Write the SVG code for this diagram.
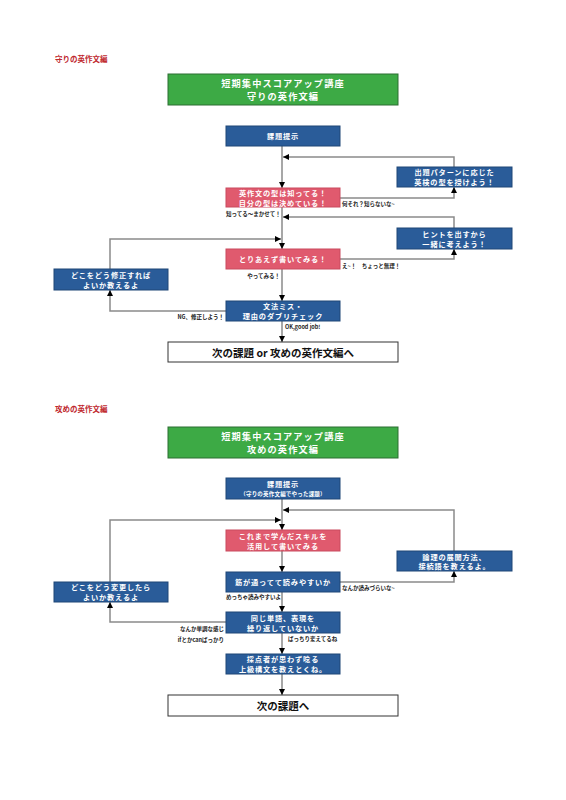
<svg xmlns="http://www.w3.org/2000/svg" width="566" height="800" viewBox="0 0 566 800">
<style>
text{font-family:"Noto Sans CJK JP","Noto Sans",sans-serif;font-weight:bold;dominant-baseline:central}
.sec{fill:#c0282e;font-size:7.5px}
.green{fill:#3daa45;stroke:#2d6e32;stroke-width:1}
.blue{fill:#2a5c99;stroke:#1e4677;stroke-width:1}
.pink{fill:#e05a6e;stroke:#c94a5e;stroke-width:1}
.white{fill:#ffffff;stroke:#333333;stroke-width:1}
.tt{fill:#ffffff;font-size:9.2px;letter-spacing:1.1px;text-anchor:middle}
.nt{fill:#ffffff;font-size:7.2px;letter-spacing:0.85px;text-anchor:middle}
.st{font-size:5.5px;letter-spacing:0.2px}
.wt{fill:#111111;font-size:10.5px;text-anchor:middle}
.lb{fill:#222222;font-size:5.5px}
.lbe{fill:#222222;font-size:5.5px;text-anchor:end}
.c{fill:none;stroke:#8a8a8a;stroke-width:1.5}
</style>
<defs>
<marker id="ah" markerWidth="6" markerHeight="6" refX="6" refY="3" orient="auto" markerUnits="userSpaceOnUse">
<path d="M0,0 L6,3 L0,6 z" fill="#000"/>
</marker>
</defs>
<rect width="566" height="800" fill="#ffffff"/>

<text class="sec" x="55" y="58">守りの英作文編</text>
<text class="sec" x="55" y="408">攻めの英作文編</text>

<g id="connectors">
<path class="c" d="M282,146 V188" marker-end="url(#ah)"/>
<path class="c" d="M454,167 V157 H283" marker-end="url(#ah)"/>
<path class="c" d="M340,198 H454 V187" marker-end="url(#ah)"/>
<path class="c" d="M282,207 V249" marker-end="url(#ah)"/>
<path class="c" d="M454,228 V217 H283" marker-end="url(#ah)"/>
<path class="c" d="M340,259 H454 V249" marker-end="url(#ah)"/>
<path class="c" d="M110,269 V239 H281" marker-end="url(#ah)"/>
<path class="c" d="M282,269 V301" marker-end="url(#ah)"/>
<path class="c" d="M226,311 H110 V290" marker-end="url(#ah)"/>
<path class="c" d="M282,321 V342" marker-end="url(#ah)"/>

<path class="c" d="M282,499 V530" marker-end="url(#ah)"/>
<path class="c" d="M454,551 V510 H283" marker-end="url(#ah)"/>
<path class="c" d="M110,582 V520 H281" marker-end="url(#ah)"/>
<path class="c" d="M282,551 V572" marker-end="url(#ah)"/>
<path class="c" d="M340,582 H454 V571" marker-end="url(#ah)"/>
<path class="c" d="M282,592 V612" marker-end="url(#ah)"/>
<path class="c" d="M226,622 H110 V602" marker-end="url(#ah)"/>
<path class="c" d="M282,633 V654" marker-end="url(#ah)"/>
<path class="c" d="M282,674 V695" marker-end="url(#ah)"/>

<text class="lb" x="342" y="204">何それ？知らないな~</text>
<text class="lb" x="226" y="214">知ってる～まかせて！</text>
<text class="lb" x="342" y="266">え~！　ちょっと無理！</text>
<text class="lbe" x="280" y="276">やってみる！</text>
<text class="lbe" x="224" y="317">NG、修正しよう！</text>
<text class="lb" x="285" y="327">OK,good job!</text>

<text class="lb" x="342" y="588">なんか読みづらいな~</text>
<text class="lb" x="226" y="597">めっちゃ読みやすいよ</text>
<text class="lbe" x="224" y="629">なんか単調な感じ</text>
<text class="lbe" x="224" y="640">ifとかcanばっかり</text>
<text class="lb" x="288" y="639">ばっちり変えてるね</text>
</g>

<g id="title1">
<rect class="green" x="168" y="74" width="230" height="31"/>
<text class="tt" x="283" y="83.2">短期集中スコアアップ講座<tspan x="283" dy="12.6">守りの英作文編</tspan></text>
</g>
<g id="n1">
<rect class="blue" x="226" y="126" width="114" height="20"/>
<text class="nt" x="283" y="136">課題提示</text>
</g>
<g id="n2">
<rect class="blue" x="397" y="167" width="115" height="20"/>
<text class="nt" x="454.5" y="172.2">出題パターンに応じた<tspan x="454.5" dy="9.8">英検の型を授けよう！</tspan></text>
</g>
<g id="n3">
<rect class="pink" x="226" y="188" width="114" height="19"/>
<text class="nt" x="283" y="193.3">英作文の型は知ってる！<tspan x="283" dy="9.8">自分の型は決めている！</tspan></text>
</g>
<g id="n4">
<rect class="blue" x="397" y="228" width="115" height="21"/>
<text class="nt" x="454.5" y="234">ヒントを出すから<tspan x="454.5" dy="10">一緒に考えよう！</tspan></text>
</g>
<g id="n5">
<rect class="pink" x="226" y="249" width="114" height="20"/>
<text class="nt" x="283" y="259">とりあえず書いてみる！</text>
</g>
<g id="n6">
<rect class="blue" x="54" y="269" width="114" height="21"/>
<text class="nt" x="111" y="274.5">どこをどう修正すれば<tspan x="111" dy="10">よいか教えるよ</tspan></text>
</g>
<g id="n7">
<rect class="blue" x="226" y="301" width="114" height="20"/>
<text class="nt" x="283" y="306.2">文法ミス・<tspan x="283" dy="9.8">理由のダブリチェック</tspan></text>
</g>
<g id="n8">
<rect class="white" x="168" y="342" width="230" height="20"/>
<text class="wt" x="283" y="352">次の課題 or 攻めの英作文編へ</text>
</g>

<g id="title2">
<rect class="green" x="168" y="427" width="230" height="31"/>
<text class="tt" x="283" y="435.9">短期集中スコアアップ講座<tspan x="283" dy="12.6">攻めの英作文編</tspan></text>
</g>
<g id="m1">
<rect class="blue" x="226" y="478" width="114" height="21"/>
<text class="nt" x="283" y="484.2">課題提示<tspan class="st" x="283" dy="9.4">（守りの英作文編でやった課題）</tspan></text>
</g>
<g id="m2">
<rect class="pink" x="226" y="530" width="114" height="21"/>
<text class="nt" x="283" y="535.5">これまで学んだスキルを<tspan x="283" dy="10">活用して書いてみる</tspan></text>
</g>
<g id="m3">
<rect class="blue" x="397" y="551" width="115" height="20"/>
<text class="nt" x="454.5" y="556.6">論理の展開方法、<tspan x="454.5" dy="9.8">接続語を教えるよ。</tspan></text>
</g>
<g id="m4">
<rect class="blue" x="226" y="572" width="114" height="20"/>
<text class="nt" x="283" y="582">筋が通ってて読みやすいか</text>
</g>
<g id="m5">
<rect class="blue" x="54" y="582" width="114" height="20"/>
<text class="nt" x="111" y="587">どこをどう変更したら<tspan x="111" dy="10">よいか教えるよ</tspan></text>
</g>
<g id="m6">
<rect class="blue" x="226" y="612" width="114" height="21"/>
<text class="nt" x="283" y="617.5">同じ単語、表現を<tspan x="283" dy="10">繰り返していないか</tspan></text>
</g>
<g id="m7">
<rect class="blue" x="226" y="654" width="114" height="20"/>
<text class="nt" x="283" y="659">採点者が思わず唸る<tspan x="283" dy="10">上級構文を教えとくね。</tspan></text>
</g>
<g id="m8">
<rect class="white" x="168" y="695" width="230" height="21"/>
<text class="wt" x="283" y="705.5">次の課題へ</text>
</g>
</svg>
